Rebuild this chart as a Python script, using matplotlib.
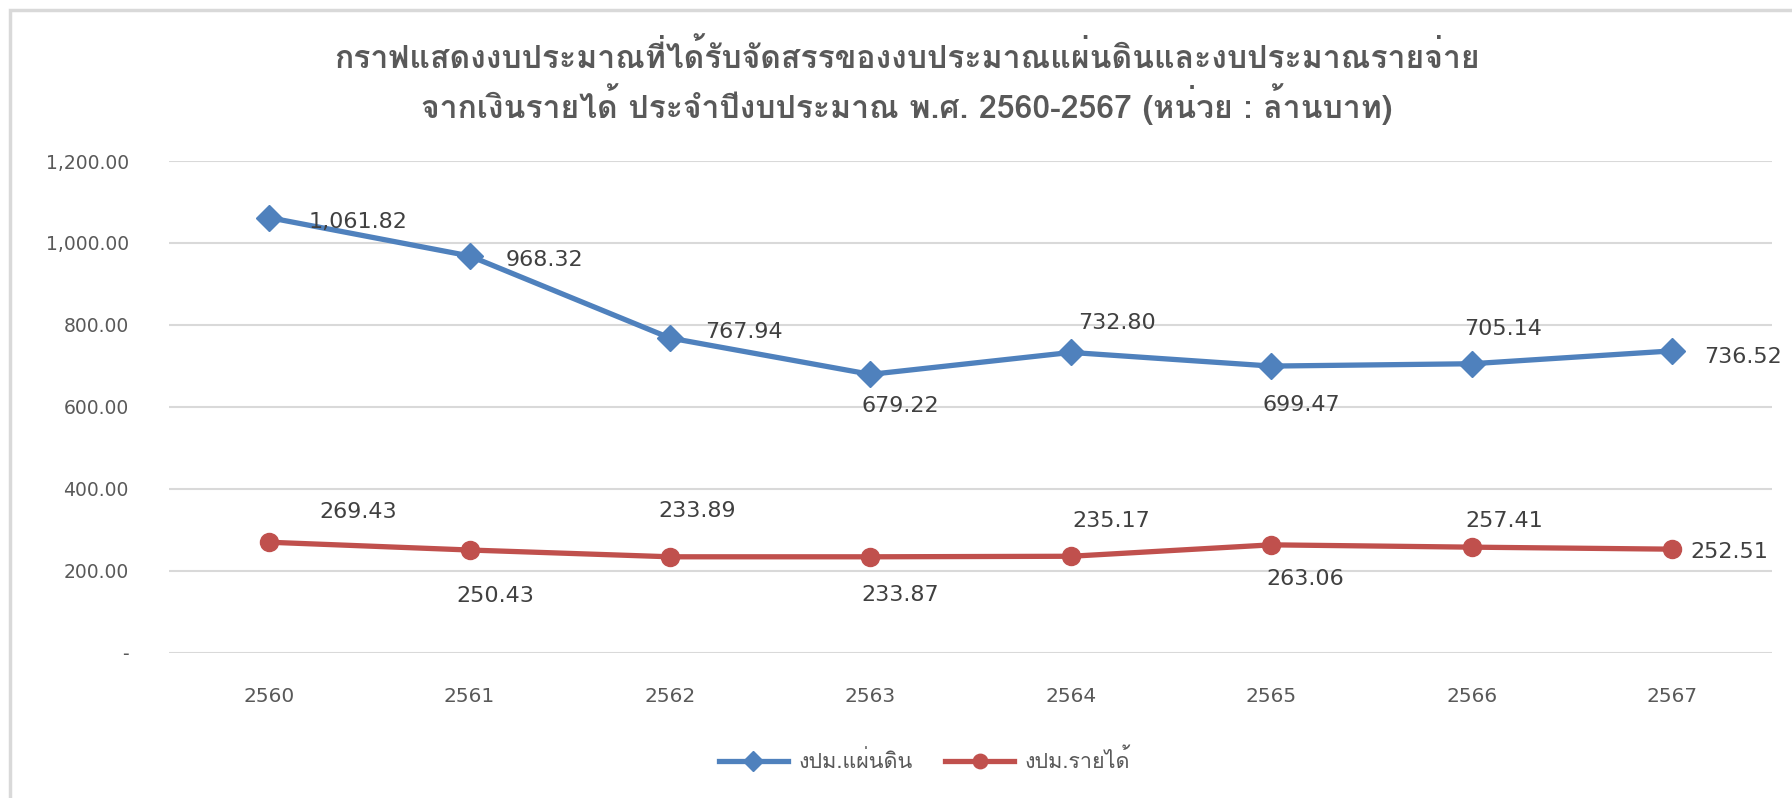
import numpy as np
import matplotlib
matplotlib.use('Agg')
import matplotlib.pyplot as plt
from matplotlib import font_manager
from matplotlib.ft2font import FT2Font
from matplotlib.patches import Rectangle

# pick an installed font that has Thai glyphs
def find_thai_font():
    for f in font_manager.fontManager.ttflist:
        try:
            if FT2Font(f.fname).get_char_index(0x0E01):
                return f.name
        except Exception:
            pass
    return None

thai = find_thai_font()
families = ([thai] if thai else []) + ['DejaVu Sans']
plt.rcParams['font.family'] = families

years = ['2560', '2561', '2562', '2563', '2564', '2565', '2566', '2567']
land_budget = [1061.82, 968.32, 767.94, 679.22, 732.80, 699.47, 705.14, 736.52]
income_budget = [269.43, 250.43, 233.89, 233.87, 235.17, 263.06, 257.41, 252.51]
series_names = ['งปม.แผ่นดิน', 'งปม.รายได้']
title = ('กราฟแสดงงบประมาณที่ได้รับจัดสรรของงบประมาณแผ่นดินและงบประมาณรายจ่าย\n'
         'จากเงินรายได้ ประจำปีงบประมาณ พ.ศ. 2560-2567 (หน่วย : ล้านบาท)')

# label offsets in pixels (dx, dy), centre of label relative to the point
land_off = [(89, -4), (75, -4), (74, 6), (30, -32), (46, 29), (30, -39), (31, 35), (71, -6)]
income_off = [(89, 30), (26, -46), (27, 46), (30, -38), (40, 35), (34, -34), (33, 26), (57, -3)]

blue = '#4F81BD'
red = '#C0504D'

fig = plt.figure(figsize=(17.92, 7.98), dpi=100)
ax = fig.add_axes([0.0943, 0.1822, 0.8947, 0.6160])

x = np.arange(len(years))
ax.plot(x, land_budget, color=blue, lw=3.8, marker='D', ms=13, label=series_names[0])
ax.plot(x, income_budget, color=red, lw=3.8, marker='o', ms=13, label=series_names[1])

for xi, v, (dx, dy) in zip(x, land_budget, land_off):
    ax.annotate(f'{v:,.2f}', (xi, v), xytext=(dx, dy), textcoords='offset pixels',
                ha='center', va='center', fontsize=16, color='#404040',
                family='DejaVu Sans', annotation_clip=False)
for xi, v, (dx, dy) in zip(x, income_budget, income_off):
    ax.annotate(f'{v:,.2f}', (xi, v), xytext=(dx, dy), textcoords='offset pixels',
                ha='center', va='center', fontsize=16, color='#404040',
                family='DejaVu Sans', annotation_clip=False)

ax.set_xlim(-0.5, 7.5)
ax.set_ylim(0, 1200)
ax.set_yticks(np.arange(0, 1201, 200))
ax.set_yticklabels(['-'] + [f'{v:,.2f}' for v in np.arange(200, 1201, 200)],
                   family='DejaVu Sans')
ax.set_xticks(x)
ax.set_xticklabels(years, family='DejaVu Sans')
ax.tick_params(axis='y', length=0, pad=29, labelsize=13.5, labelcolor='#595959')
ax.tick_params(axis='x', length=0, pad=25, labelsize=14.5, labelcolor='#595959')
ax.grid(axis='y', color='#D9D9D9', lw=1.5)
ax.set_axisbelow(True)
for s in ax.spines.values():
    s.set_visible(False)

fig.text(0.506, 0.897, title, ha='center', va='center', fontsize=23,
         fontweight='bold', color='#595959', linespacing=1.25)

fig.legend(loc='center', bbox_to_anchor=(0.516, 0.046), ncol=2, frameon=False,
           fontsize=15.5, labelcolor='#595959', handlelength=3.2, columnspacing=1.5,
           handletextpad=0.5, markerscale=0.8)

# chart border, open at the right and bottom like the cropped original
fig.patches.append(Rectangle((10, -200), 1900, 798 - 10 + 200, transform=None,
                             fill=False, edgecolor='#D9D9D9', lw=2.5))

fig.savefig('out.png', dpi=100)
